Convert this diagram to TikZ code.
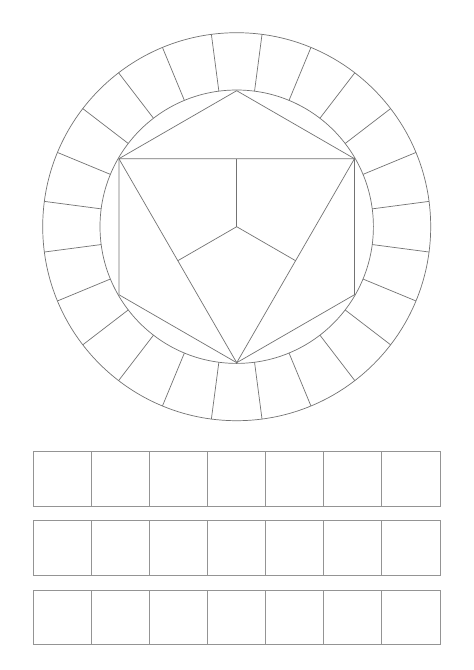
\documentclass[tikz,border=0pt]{standalone}
\begin{document}
\begin{tikzpicture}[x=1pt,y=-1pt,
  wheel/.style={draw=black!55,line width=0.7pt},
  boxline/.style={draw=black!42,line width=0.9pt}]
\fill[white] (0,0) rectangle (474,670);
\useasboundingbox (0,0) rectangle (474,670);
\begin{scope}[shift={(236.7,226.7)}]
  \coordinate (C) at (0,0);
  \draw[wheel] (C) circle[radius=194pt];
  \draw[wheel] (C) circle[radius=136.7pt];
  \foreach \a in {7.5,22.5,...,352.5}
    \draw[wheel] (\a:136.7) -- (\a:194);
  \coordinate (T)  at (-90:136);
  \coordinate (UR) at (-30:136);
  \coordinate (LR) at (30:136);
  \coordinate (B)  at (90:136);
  \coordinate (LL) at (150:136);
  \coordinate (UL) at (210:136);
  \coordinate (MT) at (-90:68);
  \coordinate (MR) at (30:68);
  \coordinate (ML) at (150:68);
  \draw[wheel] (T) -- (UR) -- (LR) -- (B) -- (LL) -- (UL) -- cycle;
  \draw[wheel] (UL) -- (UR) -- (B) -- cycle;
  \draw[wheel] (C) -- (MT);
  \draw[wheel] (C) -- (MR);
  \draw[wheel] (C) -- (ML);
\end{scope}
\foreach \t in {451.7,520.7,590.0}{
  \draw[boxline] (33.3,\t) rectangle (440,\t+54.5);
  \foreach \i in {1,...,6}
    \draw[boxline] (33.3+58.1*\i,\t) -- (33.3+58.1*\i,\t+54.5);
}
\end{tikzpicture}
\end{document}
